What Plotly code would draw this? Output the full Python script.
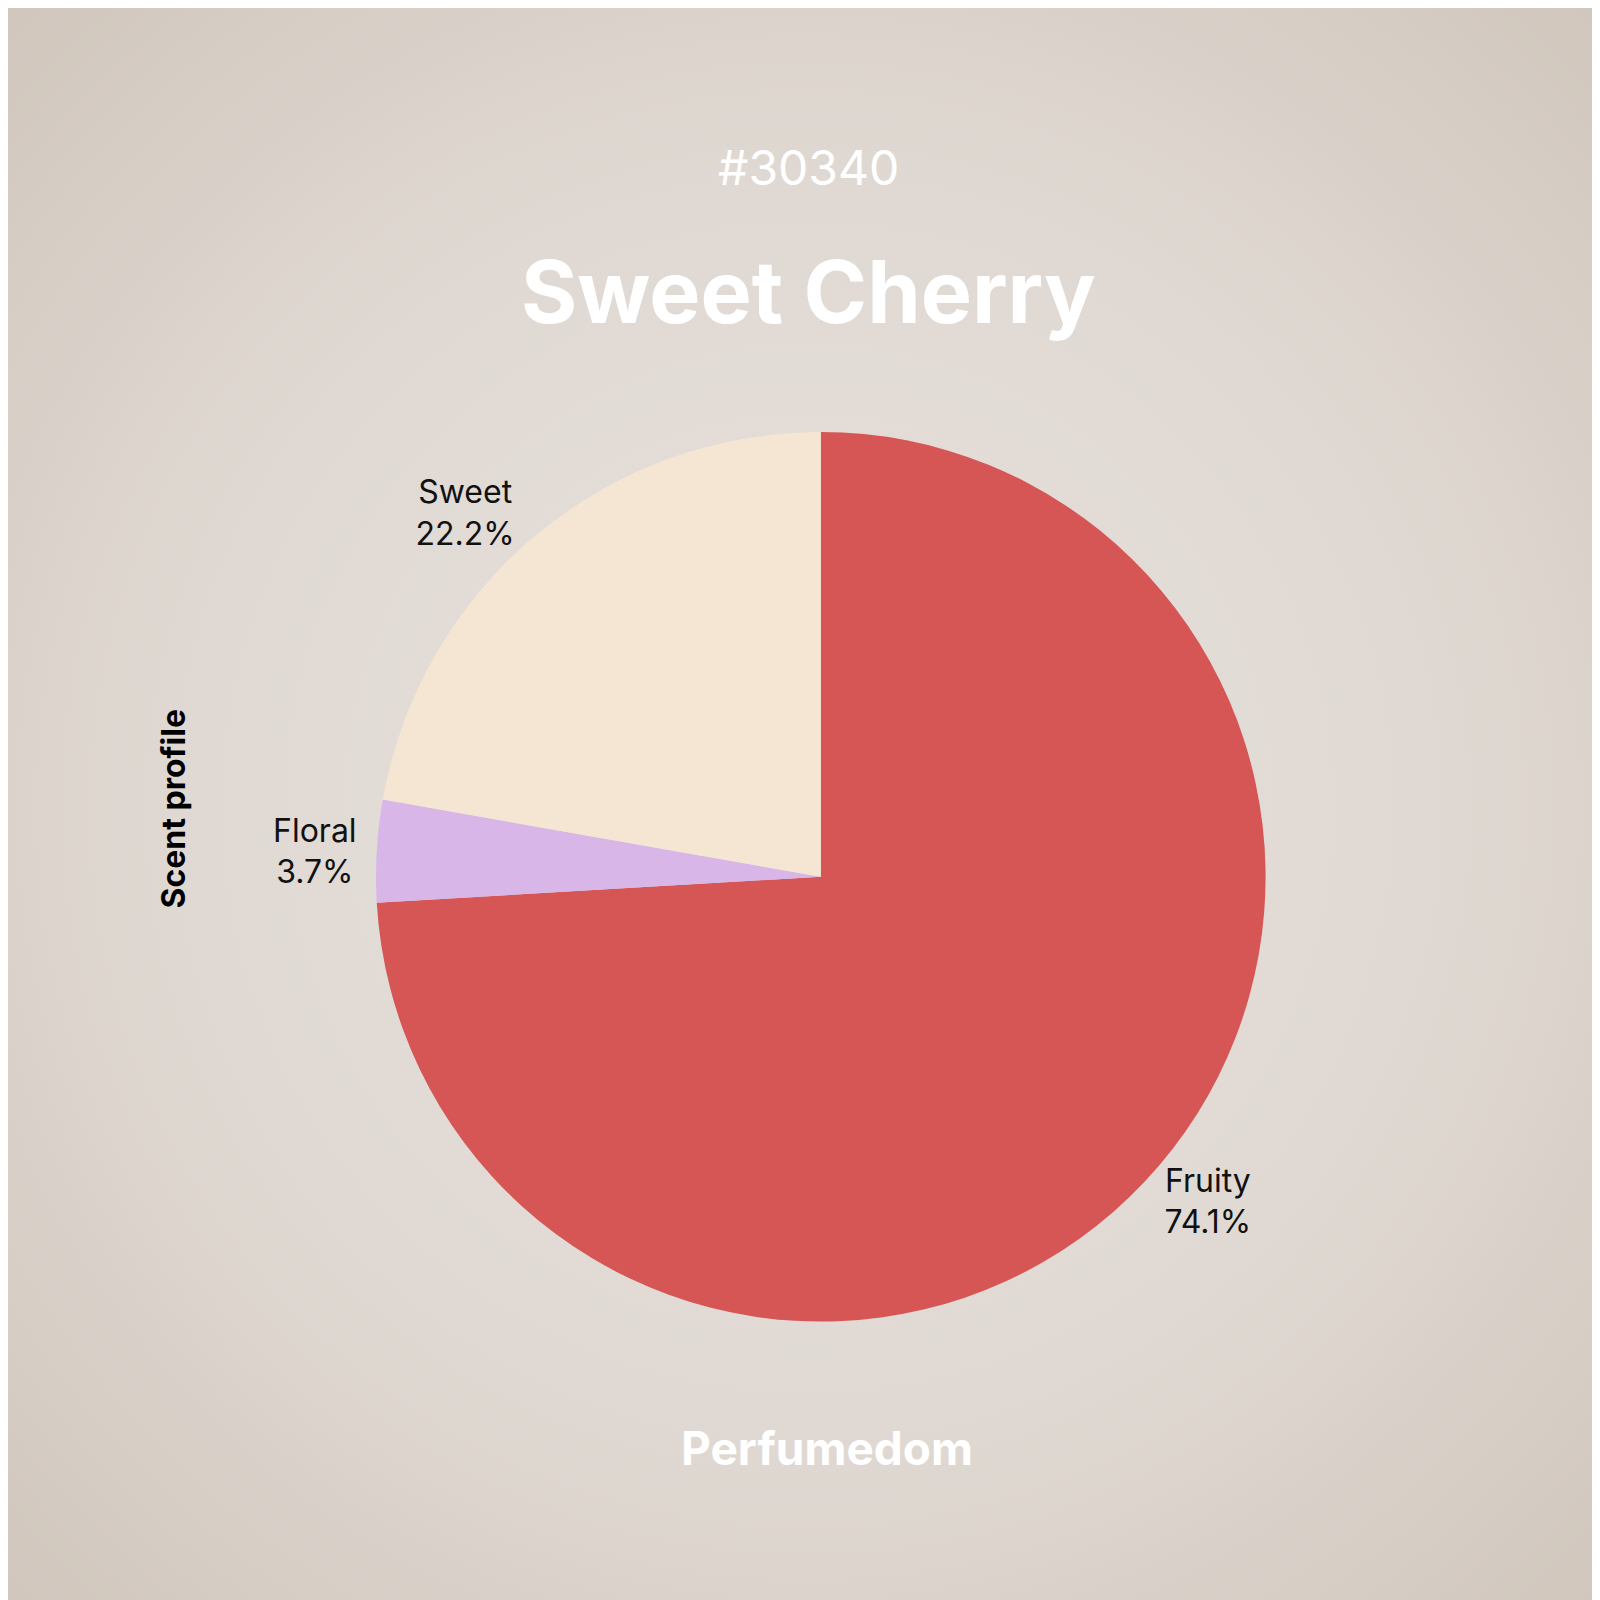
import base64
import plotly.graph_objects as go

labels = ["Fruity", "Floral", "Sweet"]
values = [20, 1, 6]
colors = ["#d65555", "#d8b6e8", "#f5e6d3"]

svg = ('<svg xmlns="http://www.w3.org/2000/svg" width="1600" height="1600">'
       '<defs><radialGradient id="g" cx="50%" cy="50%" r="71%">'
       '<stop offset="0%" stop-color="#e6e0dc"/><stop offset="55%" stop-color="#e0d9d3"/>'
       '<stop offset="100%" stop-color="#d0c6bc"/></radialGradient></defs>'
       '<rect width="1600" height="1600" fill="url(#g)"/></svg>')
bg = "data:image/svg+xml;base64," + base64.b64encode(svg.encode()).decode()

fig = go.Figure(go.Pie(
    labels=labels, values=values, sort=False, direction="clockwise", rotation=0,
    marker=dict(colors=colors), textinfo="label+percent", textposition="outside",
    texttemplate="%{label}<br>%{percent:.1%}",
    textfont=dict(size=32, color="#111", family="Inter"),
    domain=dict(x=[0.23, 0.786], y=[0.179, 0.735]), showlegend=False,
))

font = "Inter"
fig.update_layout(
    width=1600, height=1600, margin=dict(l=0, r=0, t=0, b=0),
    paper_bgcolor="#ddd5ce",
    images=[dict(source=bg, xref="paper", yref="paper", x=0, y=1, sizex=1, sizey=1,
                 xanchor="left", yanchor="top", sizing="stretch", layer="below")],
    annotations=[
        dict(text="#30340", x=0.5, y=1 - 128 / 1600, xref="paper", yref="paper",
             showarrow=False, font=dict(size=48, color="white", family=font)),
        dict(text="<b>Sweet Cherry</b>", x=0.5, y=1 - 230 / 1600, xref="paper", yref="paper",
             showarrow=False, font=dict(size=86, color="white", family=font)),
        dict(text="<b>Perfumedom</b>", x=0.512, y=1 - 1470 / 1600, xref="paper", yref="paper",
             showarrow=False, font=dict(size=46, color="white", family=font)),
        dict(text="<b>Scent profile</b>", x=143 / 1600, y=1 - 801 / 1600, xref="paper", yref="paper",
             showarrow=False, textangle=-90, font=dict(size=32, color="black", family=font)),
    ],
)

fig.write_html("out.html")
